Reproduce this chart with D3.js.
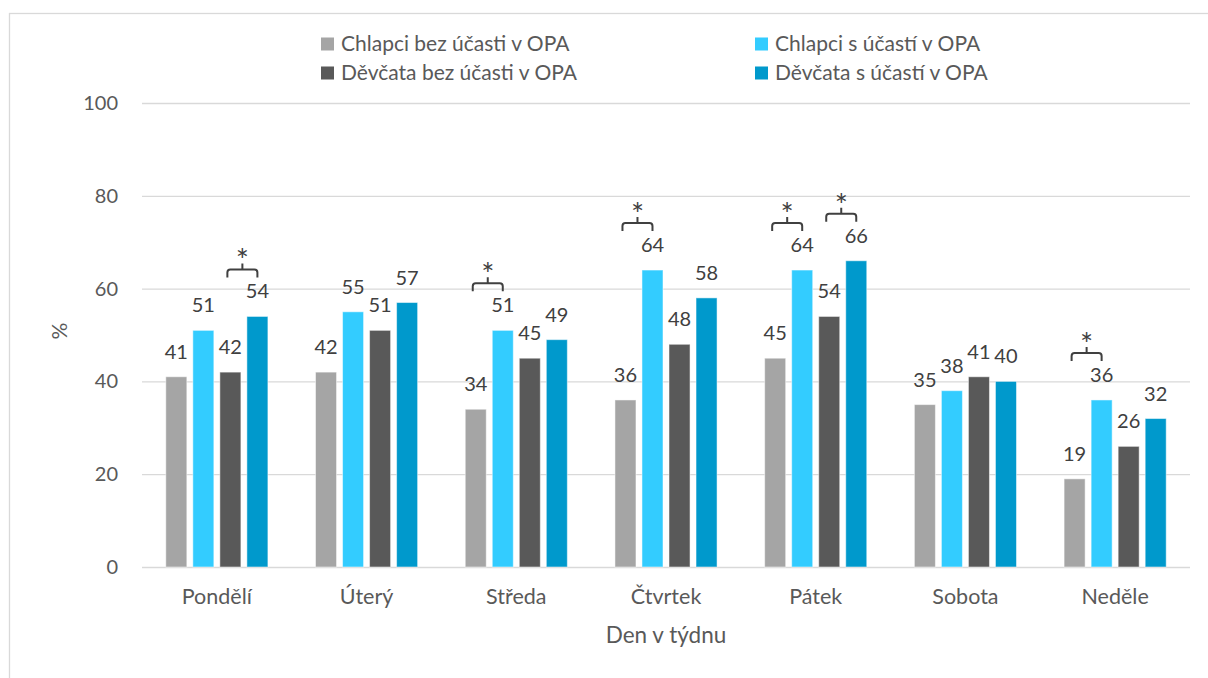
<!DOCTYPE html>
<html>
<head>
<meta charset="utf-8">
<script src="https://cdn.jsdelivr.net/npm/d3@7"></script>
<style>
  body { margin: 0; background: #fff; }
  svg text { font-family: Lato, "Noto Sans", sans-serif; }
</style>
</head>
<body>
<svg id="chart" width="1208" height="678"></svg>
<script>
'use strict';

// categories and series
let days = ['Pondělí', 'Úterý', 'Středa', 'Čtvrtek', 'Pátek', 'Sobota', 'Neděle'];
let seriesNames = ['Chlapci bez účasti v OPA', 'Chlapci s účastí v OPA', 'Děvčata bez účasti v OPA', 'Děvčata s účastí v OPA'];
let seriesColors = ['#a5a5a5', '#33ccff', '#595959', '#0099cc'];

let boysNo = [41, 42, 34, 36, 45, 35, 19];
let boysYes = [51, 55, 51, 64, 64, 38, 36];
let girlsNo = [42, 51, 45, 48, 54, 41, 26];
let girlsYes = [54, 57, 49, 58, 66, 40, 32];

let yTicks = [0, 20, 40, 60, 80, 100];

// significant pairs (series index from/to)
let sigDays = ['Pondělí', 'Středa', 'Čtvrtek', 'Pátek', 'Pátek', 'Neděle'];
let sigPairs = [[2, 3], [0, 1], [0, 1], [0, 1], [2, 3], [0, 1]];

let values = [boysNo, boysYes, girlsNo, girlsYes];

let svg = d3.select('#chart');
let margin = {left: 142, right: 18, top: 103, bottom: 111};
let width = 1208 - margin.left - margin.right;
let height = 678 - margin.top - margin.bottom;

// chart border
svg.append('rect')
	.attr('x', 9.5).attr('y', 13.5)
	.attr('width', 1400).attr('height', 900)
	.attr('fill', 'none')
	.attr('stroke', '#d9d9d9')
	.attr('stroke-width', 1.3);

let g = svg.append('g').attr('transform', `translate(${margin.left},${margin.top})`);

let x0 = d3.scaleBand().domain(days).range([0, width]).paddingInner(0.318).paddingOuter(0.159);
let x1 = d3.scaleBand().domain(d3.range(4)).range([0, x0.bandwidth()]).paddingInner(0.222);
let y = d3.scaleLinear().domain([0, 100]).range([height, 0]);

// gridlines
g.append('g')
	.call(d3.axisLeft(y).tickValues(yTicks).tickSize(-width).tickFormat(''))
	.call(a => a.select('.domain').remove())
	.selectAll('line')
	.attr('stroke', '#d9d9d9')
	.attr('stroke-width', 1.3);

// y tick labels
g.append('g')
	.call(d3.axisLeft(y).tickValues(yTicks).tickSize(0).tickPadding(24))
	.call(a => a.select('.domain').remove())
	.selectAll('text')
	.attr('fill', '#595959')
	.style('font-size', '20px');

// x labels
g.append('g')
	.attr('transform', `translate(0,${height})`)
	.call(d3.axisBottom(x0).tickSize(0).tickPadding(22))
	.call(a => a.select('.domain').remove())
	.selectAll('text')
	.attr('fill', '#595959')
	.style('font-size', '21.5px');

// bars
let groups = g.selectAll('.day')
	.data(days)
	.join('g')
	.attr('class', 'day')
	.attr('transform', d => `translate(${x0(d)},0)`);

groups.selectAll('rect')
	.data((d, i) => values.map((s, k) => ({k, v: s[i]})))
	.join('rect')
	.attr('x', d => x1(d.k))
	.attr('y', d => y(d.v))
	.attr('width', x1.bandwidth())
	.attr('height', d => height - y(d.v))
	.attr('fill', d => seriesColors[d.k])
	.attr('stroke', '#fff')
	.attr('stroke-opacity', 0.5)
	.attr('stroke-width', 1);

groups.selectAll('text.val')
	.data((d, i) => values.map((s, k) => ({k, v: s[i]})))
	.join('text')
	.attr('class', 'val')
	.attr('x', d => x1(d.k) + x1.bandwidth() / 2)
	.attr('y', d => y(d.v) - 18)
	.attr('text-anchor', 'middle')
	.attr('fill', '#404040')
	.style('font-size', '20px')
	.text(d => d.v);

// significance brackets
sigDays.forEach((day, i) => {
	let di = days.indexOf(day);
	let [a, b] = sigPairs[i];
	let xa = x0(day) + x1(a) + x1.bandwidth() / 2 - 3;
	let xb = x0(day) + x1(b) + x1.bandwidth() / 2;
	let xm = (xa + xb) / 2;
	let by = y(Math.max(values[a][di], values[b][di])) - 47;
	let r = 3;
	g.append('path')
		.attr('d', `M${xa},${by + 8}L${xa},${by + r}Q${xa},${by} ${xa + r},${by}L${xb - r},${by}Q${xb},${by} ${xb},${by + r}L${xb},${by + 8}M${xm},${by}L${xm},${by - 6}`)
		.attr('fill', 'none')
		.attr('stroke', '#404040')
		.attr('stroke-width', 2);
	g.append('text')
		.attr('x', xm)
		.attr('y', by + 2)
		.attr('text-anchor', 'middle')
		.attr('fill', '#404040')
		.style('font-size', '31px')
		.text('*');
});

// axis titles
svg.append('text')
	.attr('x', margin.left + width / 2)
	.attr('y', 643)
	.attr('text-anchor', 'middle')
	.attr('fill', '#595959')
	.style('font-size', '22.5px')
	.text('Den v týdnu');

svg.append('text')
	.attr('transform', 'translate(67,331) rotate(-90)')
	.attr('text-anchor', 'middle')
	.attr('fill', '#595959')
	.style('font-size', '21px')
	.text('%');

// legend, two columns by two rows
let legendX = [321, 755];
let legendY = [44, 73];

let legend = svg.selectAll('.legend')
	.data(seriesNames)
	.join('g')
	.attr('class', 'legend')
	.attr('transform', (d, i) => `translate(${legendX[i % 2]},${legendY[Math.floor(i / 2)]})`);

legend.append('rect')
	.attr('x', 0).attr('y', -6.5)
	.attr('width', 13).attr('height', 13)
	.attr('fill', (d, i) => seriesColors[i]);

legend.append('text')
	.attr('x', 20)
	.attr('y', 7)
	.attr('fill', '#595959')
	.style('font-size', '21px')
	.text(d => d);
</script>
</body>
</html>
